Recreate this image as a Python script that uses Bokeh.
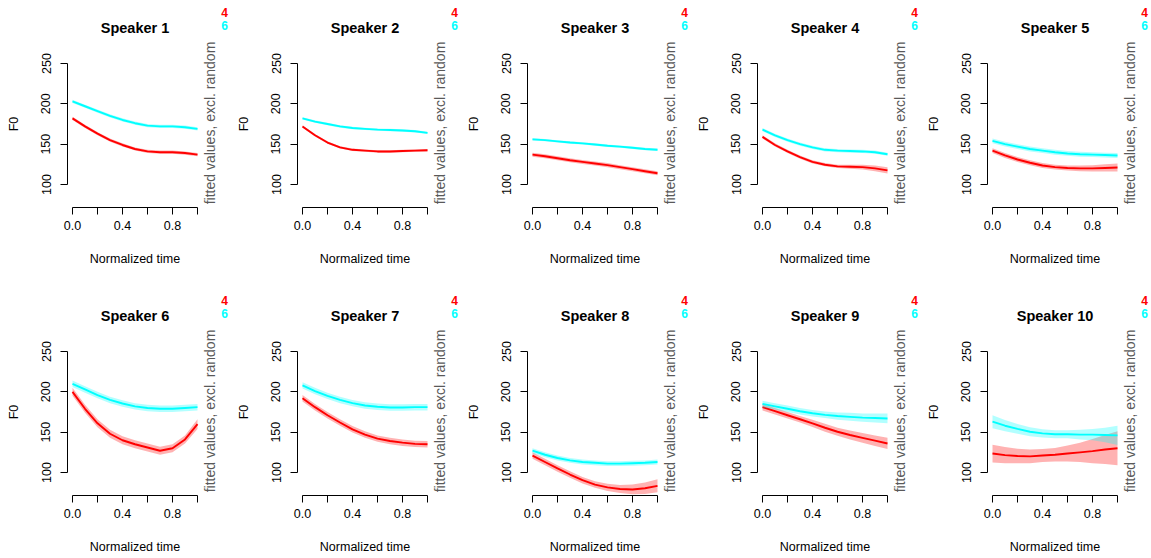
import math
from bokeh.plotting import figure
from bokeh.layouts import column, row
from bokeh.models import Label, FixedTicker, ColumnDataSource
from bokeh.embed import file_html
from bokeh.resources import INLINE

# ---------------- data ----------------
time = [0.0, 0.1, 0.2, 0.3, 0.4, 0.5, 0.6, 0.7, 0.8, 0.9, 1.0]
speakers = ["Speaker 1", "Speaker 2", "Speaker 3", "Speaker 4", "Speaker 5",
            "Speaker 6", "Speaker 7", "Speaker 8", "Speaker 9", "Speaker 10"]
group_labels = ["4", "6"]
y_ticks = [100, 150, 200, 250]
x_ticks = [0.0, 0.4, 0.8]
x_minor_ticks = [0.2, 0.6, 1.0]

s1_red = [182, 172, 163, 155, 149, 144, 141, 140, 140, 139, 137]
s1_red_ci = [2, 2, 2, 2, 2, 2, 2, 2, 2, 2, 2]
s1_cyan = [203, 197, 191, 185, 180, 176, 173, 172, 172, 171, 169]
s1_cyan_ci = [2, 2, 2, 2, 2, 2, 2, 2, 2, 2, 2]

s2_red = [172, 161, 152, 146, 143, 142, 141, 141, 141.5, 142, 142.5]
s2_red_ci = [1.5, 1.5, 1.5, 1.5, 1.5, 1.5, 1.5, 1.5, 1.5, 1.5, 1.5]
s2_cyan = [182, 178, 175, 172, 170, 169, 168, 167.5, 167, 166, 164]
s2_cyan_ci = [1.5, 1.5, 1.5, 1.5, 1.5, 1.5, 1.5, 1.5, 1.5, 1.5, 1.5]

s3_red = [137, 135, 132.5, 130, 128, 126, 124, 121.5, 119, 116.5, 114]
s3_red_ci = [2.5, 2.5, 2.5, 2.5, 2.5, 2.5, 2.5, 2.5, 2.5, 2.5, 2.5]
s3_cyan = [156, 155, 153.5, 152, 151, 149.5, 148, 147, 145.5, 144, 143]
s3_cyan_ci = [1.5, 1.5, 1.5, 1.5, 1.5, 1.5, 1.5, 1.5, 1.5, 1.5, 1.5]

s4_red = [159, 149, 141, 134, 128, 124.5, 122.5, 122, 121.5, 120, 117.5]
s4_red_ci = [2, 2, 2, 2, 2, 2, 2, 2.5, 3, 3.5, 4]
s4_cyan = [168, 161, 155, 150, 146, 143, 142, 141.5, 141, 140, 137.5]
s4_cyan_ci = [2, 2, 2, 2, 2, 2, 2, 2, 2, 2, 2]

s5_red = [142, 136, 131, 127, 123.5, 121.5, 120.5, 120, 120, 120.5, 121]
s5_red_ci = [3, 3, 3, 3, 3, 3, 3, 3.5, 4, 4.5, 5]
s5_cyan = [154, 150, 147, 144, 142, 140, 138.5, 137.5, 137, 136.5, 136]
s5_cyan_ci = [3, 3, 3, 3, 3, 3, 3, 3, 3, 3, 3]

s6_red = [200, 179, 161, 148, 140, 135, 131, 127, 130, 141, 160]
s6_red_ci = [5, 5, 5, 5, 5, 5, 5, 5, 5, 5, 6]
s6_cyan = [210, 203, 196, 190, 185.5, 182, 180, 179, 179, 180, 181]
s6_cyan_ci = [4, 4, 4, 4, 4, 4, 4, 4, 4, 4, 4]

s7_red = [192, 181, 171, 162, 153.5, 147, 142, 139, 137, 135.5, 135]
s7_red_ci = [4, 4, 4, 4, 4, 4, 4, 4, 4, 4, 4]
s7_cyan = [208, 201, 195, 190, 186, 183, 181.5, 180.5, 180.5, 181, 181]
s7_cyan_ci = [4, 4, 4, 4, 4, 4, 4, 4, 4, 4, 4]

s8_red = [121, 113, 105, 97.5, 90.5, 85, 81.5, 79.5, 79, 80.5, 83.5]
s8_red_ci = [4, 4, 4, 4, 4, 4, 4.5, 5, 6, 7, 8]
s8_cyan = [127, 122, 118, 115, 113, 112, 111, 111, 111.5, 112, 113]
s8_cyan_ci = [3, 3, 3, 3, 3, 3, 3, 3, 3, 3, 3]

s9_red = [181, 176, 171, 166, 161, 155.5, 150.5, 146.5, 143, 139.5, 136]
s9_red_ci = [4, 4, 4, 4, 4.5, 5, 5, 5.5, 6, 6.5, 7]
s9_cyan = [185, 182, 179, 176, 173.5, 171.5, 170, 169, 168, 167.5, 167]
s9_cyan_ci = [4, 4, 4, 4, 4, 4, 4.5, 5, 5, 5.5, 6]

s10_red = [123.5, 121.5, 120.5, 120, 121, 122, 123.5, 125, 126.5, 128.5, 130]
s10_red_ci = [11, 10, 9, 8.5, 8, 8.5, 10, 12, 15, 18, 21]
s10_cyan = [163, 158, 154, 150.5, 148.5, 147.5, 147.5, 147, 147, 146.5, 146]
s10_cyan_ci = [8, 7, 6, 5.5, 5, 5, 5, 6, 7, 9, 12]

red_fits = [s1_red, s2_red, s3_red, s4_red, s5_red, s6_red, s7_red, s8_red, s9_red, s10_red]
red_cis = [s1_red_ci, s2_red_ci, s3_red_ci, s4_red_ci, s5_red_ci,
           s6_red_ci, s7_red_ci, s8_red_ci, s9_red_ci, s10_red_ci]
cyan_fits = [s1_cyan, s2_cyan, s3_cyan, s4_cyan, s5_cyan, s6_cyan, s7_cyan, s8_cyan, s9_cyan, s10_cyan]
cyan_cis = [s1_cyan_ci, s2_cyan_ci, s3_cyan_ci, s4_cyan_ci, s5_cyan_ci,
            s6_cyan_ci, s7_cyan_ci, s8_cyan_ci, s9_cyan_ci, s10_cyan_ci]

# ---------------- layout geometry (pixels inside one panel) ----------------
FONT = "Liberation Sans"
RED = "#FF0000"
CYAN = "#00FFFF"
PX_X0 = 72.0      # pixel of time = 0
PX_PER_X = 125.0  # pixels per unit of time
PX_Y100 = 184.0   # pixel of F0 = 100
PX_PER_Y = 121.0 / 150.0
TICK_FS = "12.5px"
LABEL_FS = "12.5px"


def xv(px):
    return (px - PX_X0) / PX_PER_X


def yv(py):
    return 100 + (PX_Y100 - py) / PX_PER_Y


def make_panel(i, width, height):
    p = figure(width=width, height=height,
               x_range=(xv(0), xv(width)), y_range=(yv(height), yv(0)),
               output_backend="svg", toolbar_location=None,
               min_border_left=0, min_border_right=0,
               min_border_top=0, min_border_bottom=0)
    p.outline_line_color = None
    p.xgrid.visible = False
    p.ygrid.visible = False
    p.background_fill_color = "white"
    p.border_fill_color = "white"

    # bands + lines
    for fit, ci, col in ((red_fits[i], red_cis[i], RED), (cyan_fits[i], cyan_cis[i], CYAN)):
        src = ColumnDataSource(dict(
            x=time, y=fit,
            lo=[f - c for f, c in zip(fit, ci)],
            hi=[f + c for f, c in zip(fit, ci)]))
        p.varea(x="x", y1="lo", y2="hi", source=src, fill_color=col, fill_alpha=0.3)
        p.line(x="x", y="y", source=src, line_color=col, line_width=1.9)

    # x axis
    xa = p.xaxis[0]
    xa.fixed_location = yv(207)
    xa.bounds = (0, 1)
    xa.ticker = FixedTicker(ticks=x_ticks, minor_ticks=x_minor_ticks)
    xa.major_label_overrides = {0: "0.0"}
    xa.major_tick_out = 7
    xa.major_tick_in = 0
    xa.minor_tick_out = 7
    xa.minor_tick_in = 0
    xa.major_label_standoff = 6
    xa.axis_label = "Normalized time"
    xa.axis_label_standoff = 19
    xa.axis_label_text_font = FONT
    xa.axis_label_text_font_size = LABEL_FS
    xa.axis_label_text_font_style = "normal"
    xa.axis_label_text_color = "#000000"
    xa.major_label_text_font = FONT
    xa.major_label_text_font_size = TICK_FS
    xa.major_label_text_color = "#000000"
    xa.axis_line_color = "#000000"
    xa.major_tick_line_color = "#000000"
    xa.minor_tick_line_color = "#000000"

    # y axis
    ya = p.yaxis[0]
    ya.fixed_location = xv(67)
    ya.bounds = (100, 250)
    ya.ticker = FixedTicker(ticks=y_ticks, minor_ticks=[])
    ya.major_tick_out = 7
    ya.major_tick_in = 0
    ya.minor_tick_out = 0
    ya.minor_tick_in = 0
    ya.major_label_orientation = "vertical"
    ya.major_label_standoff = 10
    ya.axis_label = "F0"
    ya.axis_label_standoff = 18
    ya.axis_label_text_font = FONT
    ya.axis_label_text_font_size = LABEL_FS
    ya.axis_label_text_font_style = "normal"
    ya.axis_label_text_color = "#000000"
    ya.major_label_text_font = FONT
    ya.major_label_text_font_size = TICK_FS
    ya.major_label_text_color = "#000000"
    ya.axis_line_color = "#000000"
    ya.major_tick_line_color = "#000000"

    # title
    p.add_layout(Label(x=0.5, y=yv(27), text=speakers[i],
                       text_font=FONT, text_font_size="14.5px", text_font_style="bold",
                       text_align="center", text_baseline="middle", text_color="#000000"))
    # right label
    p.add_layout(Label(x=xv(209), y=yv(122.5), text="fitted values, excl. random",
                       angle=math.pi / 2, text_font=FONT, text_font_size="14px",
                       text_align="center", text_baseline="middle", text_color="#595959"))
    # legend
    p.add_layout(Label(x=xv(227.5), y=yv(11.5), text=group_labels[0],
                       text_font=FONT, text_font_size="12px", text_font_style="bold",
                       text_align="right", text_baseline="middle", text_color=RED))
    p.add_layout(Label(x=xv(227.5), y=yv(25), text=group_labels[1],
                       text_font=FONT, text_font_size="12px", text_font_style="bold",
                       text_align="right", text_baseline="middle", text_color=CYAN))
    return p


widths = [230, 230, 230, 230, 231]
row1 = [make_panel(i, widths[i], 288) for i in range(5)]
row2 = [make_panel(i + 5, widths[i], 270) for i in range(5)]
layout = column(row(*row1), row(*row2))

open("out.html", "w").write(file_html(layout, INLINE))
